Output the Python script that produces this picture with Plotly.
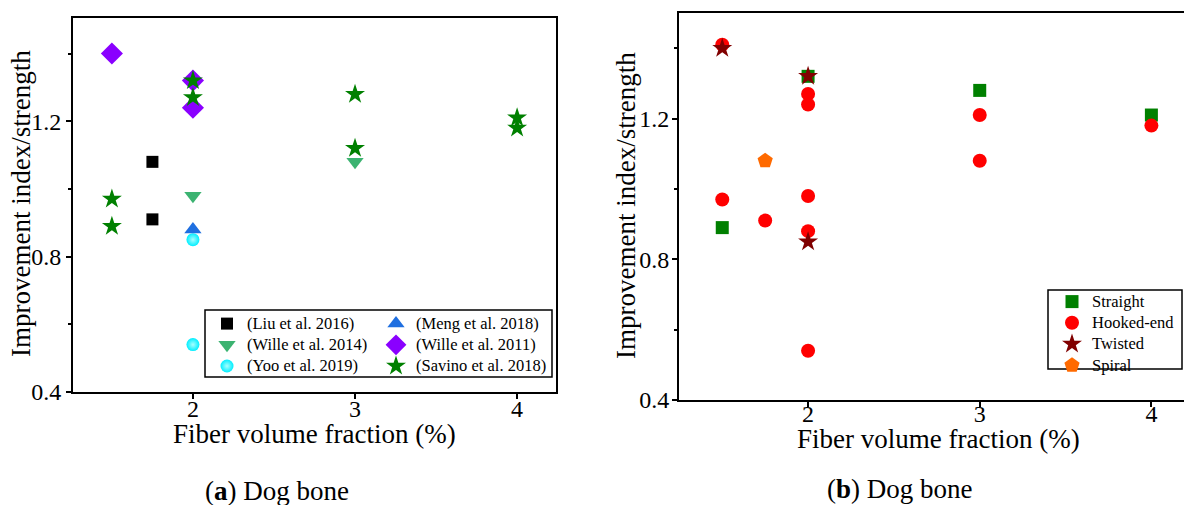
import plotly.graph_objects as go

# ---------- Panel (a) data ----------
liu_x = [1.75, 1.75]
liu_y = [1.08, 0.91]
wille14_x = [2, 3]
wille14_y = [0.98, 1.08]
yoo_x = [2, 2]
yoo_y = [0.85, 0.54]
meng_x = [2]
meng_y = [0.88]
wille11_x = [1.5, 2, 2]
wille11_y = [1.40, 1.32, 1.24]
savino_x = [1.5, 1.5, 2, 2, 3, 3, 4, 4]
savino_y = [0.97, 0.89, 1.32, 1.27, 1.28, 1.12, 1.21, 1.18]

# ---------- Panel (b) data ----------
straight_x = [1.5, 2, 3, 4]
straight_y = [0.89, 1.32, 1.28, 1.21]
hooked_x = [1.5, 1.5, 1.75, 2, 2, 2, 2, 2, 3, 3, 4]
hooked_y = [1.41, 0.97, 0.91, 1.27, 1.24, 0.98, 0.88, 0.54, 1.21, 1.08, 1.18]
twisted_x = [1.5, 2, 2]
twisted_y = [1.40, 1.32, 0.85]
spiral_x = [1.75]
spiral_y = [1.08]

y_ticks = [0.4, 0.8, 1.2]
y_minor = [0.6, 1.0, 1.4]
x_ticks = [2, 3, 4]

SERIF = "Liberation Serif, Times New Roman, serif"
W, H = 1184, 505

fig = go.Figure()

def lbl(s):
    return "<span style='font-size:16.5px'>" + s + "</span>"

def add(x, y, name, symbol, color, size, xa, ya, legend, gradient=None):
    m = dict(symbol=symbol, color=color, size=size, line=dict(width=0))
    if gradient:
        m["gradient"] = gradient
    fig.add_trace(go.Scatter(x=x, y=y, mode="markers", name=lbl(name), marker=m,
                             xaxis=xa, yaxis=ya, legend=legend))

# panel a
add(liu_x, liu_y, "(Liu et al. 2016)", "square", "#000000", 12, "x", "y", "legend")
add(wille14_x, wille14_y, "(Wille et al. 2014)", "triangle-down", "#3CB371", 15, "x", "y", "legend")
add(yoo_x, yoo_y, "(Yoo et al. 2019)", "circle", "#00EEFF", 13, "x", "y", "legend",
    gradient=dict(type="radial", color="#A8FFFF"))
add(meng_x, meng_y, "(Meng et al. 2018)", "triangle-up", "#1F6FE0", 15, "x", "y", "legend2")
add(wille11_x, wille11_y, "(Wille et al. 2011)", "diamond", "#8A00FF", 17, "x", "y", "legend2")
add(savino_x, savino_y, "(Savino et al. 2018)", "star", "#008000", 15, "x", "y", "legend2")

# panel b
add(straight_x, straight_y, "Straight", "square", "#008000", 13, "x2", "y2", "legend3")
add(hooked_x, hooked_y, "Hooked-end", "circle", "#FF0000", 14, "x2", "y2", "legend3")
add(twisted_x, twisted_y, "Twisted", "star", "#800000", 15, "x2", "y2", "legend3")
add(spiral_x, spiral_y, "Spiral", "pentagon", "#FF6A00", 16, "x2", "y2", "legend3")

def px(v):
    return v / W

def py(v):
    return 1 - v / H

axis_common = dict(showline=True, linecolor="black", linewidth=2, ticks="outside",
                   ticklen=5, tickwidth=1.5, tickcolor="black", showgrid=False,
                   zeroline=False, tickfont=dict(family=SERIF, size=24, color="black"))
minor = dict(tickvals=y_minor, ticks="outside", ticklen=3, tickcolor="black", tickwidth=1.5)
leg_common = dict(xanchor="left", yanchor="top", bgcolor="rgba(0,0,0,0)", borderwidth=0,
                  font=dict(family=SERIF, size=14, color="black"), tracegroupgap=0)

fig.update_layout(
    width=W, height=H, margin=dict(l=0, r=0, t=0, b=0, autoexpand=False),
    paper_bgcolor="white", plot_bgcolor="white",
    font=dict(family=SERIF, color="black"),
    xaxis=dict(domain=[px(73), px(556)], range=[1.26, 4.24], tickvals=x_ticks,
               mirror=True, anchor="y", ticklabelstandoff=-11, **axis_common),
    yaxis=dict(domain=[py(392), py(18)], range=[0.4, 1.505], tickvals=y_ticks,
               ticktext=["0.4", "0.8", "1.2"], mirror=True, anchor="x",
               minor=minor, **axis_common),
    xaxis2=dict(domain=[px(679), 1.0], range=[1.248, 4.19], tickvals=x_ticks,
                mirror=True, anchor="y2", ticklabelstandoff=-14, **axis_common),
    yaxis2=dict(domain=[py(400), py(13)], range=[0.4, 1.5], tickvals=y_ticks,
                ticktext=["0.4", "0.8", "1.2"], mirror=False, anchor="x2",
                minor=minor, ticklabelstandoff=-2, **axis_common),
    legend=dict(x=px(207), y=py(308), **leg_common),
    legend2=dict(x=px(376), y=py(308), **leg_common),
    legend3=dict(x=px(1052), y=py(286), **leg_common),
    showlegend=True,
)

# legend frames
fig.add_shape(type="rect", xref="paper", yref="paper",
              x0=px(205), x1=px(552), y0=py(377), y1=py(310),
              line=dict(color="black", width=1.5), fillcolor="rgba(0,0,0,0)")
fig.add_shape(type="rect", xref="paper", yref="paper",
              x0=px(1048), x1=px(1182), y0=py(369), y1=py(290),
              line=dict(color="black", width=1.5), fillcolor="white", layer="above")

ann_font = dict(family=SERIF, size=27, color="black")
annotations = [
    dict(text="Fiber volume fraction (%)", x=px(314), y=py(434)),
    dict(text="Fiber volume fraction (%)", x=px(938), y=py(439)),
    dict(text="Improvement index/strength", x=px(21), y=py(204), textangle=-90),
    dict(text="Improvement index/strength", x=px(626), y=py(206), textangle=-90),
    dict(text="(<b>a</b>) Dog bone", x=px(277), y=py(491)),
    dict(text="(<b>b</b>) Dog bone", x=px(900), y=py(489)),
]
for a in annotations:
    fig.add_annotation(xref="paper", yref="paper", xanchor="center", yanchor="middle",
                       showarrow=False, font=ann_font, **a)

fig.write_html("out.html", config={"displayModeBar": False},
               post_script="document.body.style.margin='0';document.body.style.overflow='hidden';")
